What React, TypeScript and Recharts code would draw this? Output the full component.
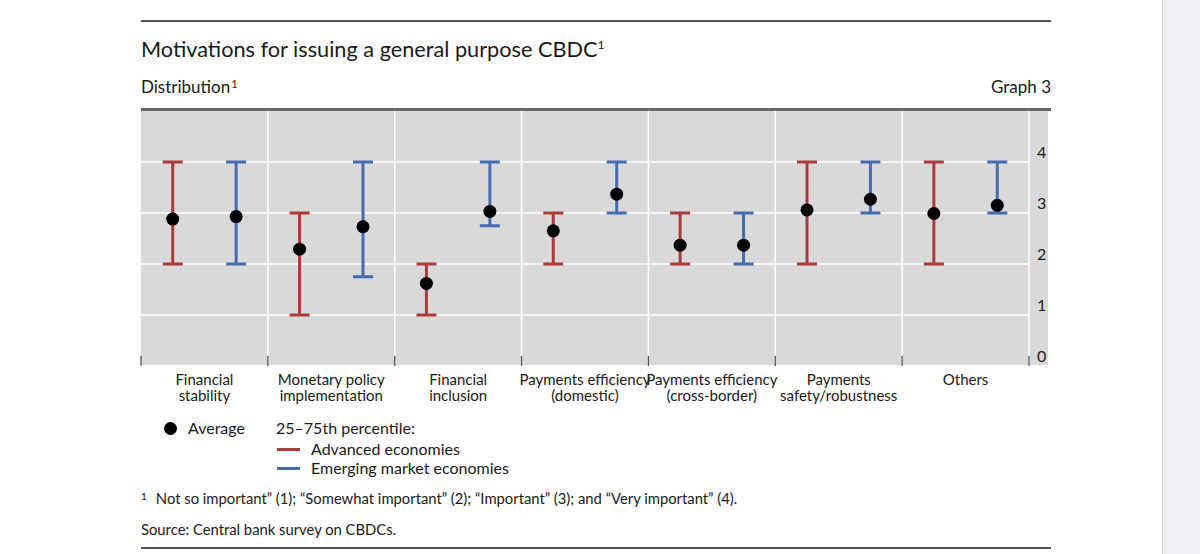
import React from "react";
import {
  ComposedChart,
  Scatter,
  ErrorBar,
  XAxis,
  YAxis,
  CartesianGrid,
  ReferenceLine,
} from "recharts";

// ---------- data ----------
const categoryLines: string[][] = [
  ["Financial", "stability"],
  ["Monetary policy", "implementation"],
  ["Financial", "inclusion"],
  ["Payments efficiency", "(domestic)"],
  ["Payments efficiency", "(cross-border)"],
  ["Payments", "safety/robustness"],
  ["Others"],
];

const aeAvg = [2.88, 2.29, 1.62, 2.65, 2.37, 3.06, 2.99];
const aeLow = [2, 1, 1, 2, 2, 2, 2];
const aeHigh = [4, 3, 2, 3, 3, 4, 4];

const emeAvg = [2.93, 2.73, 3.03, 3.37, 2.37, 3.27, 3.15];
const emeLow = [2, 1.75, 2.75, 3, 2, 3, 3];
const emeHigh = [4, 4, 4, 4, 3, 4, 4];

const yTicks = [0, 1, 2, 3, 4];
const xLabelTicks = [0.5, 1.5, 2.5, 3.5, 4.5, 5.5, 6.5];
const boundaries = [0, 1, 2, 3, 4, 5, 6, 7];

const RED = "#ab3a3a";
const BLUE = "#456bb0";
const FONT = "Lato, 'Open Sans', sans-serif";

const aeData = aeAvg.map((v, i) => ({
  x: i + 0.25,
  y: v,
  err: [v - aeLow[i], aeHigh[i] - v],
}));
const emeData = emeAvg.map((v, i) => ({
  x: i + 0.75,
  y: v,
  err: [v - emeLow[i], emeHigh[i] - v],
}));
const avgData = [...aeData, ...emeData].map((d) => ({ x: d.x, y: d.y }));

const XTick = (props: any) => {
  const { x, y, payload } = props;
  const idx = Math.floor(payload.value);
  const lines = categoryLines[idx] || [];
  return (
    <text x={x} y={y} textAnchor="middle" fill="#1a1a1a" fontSize={15} fontFamily={FONT}>
      {lines.map((l, k) => (
        <tspan key={k} x={x} dy={k === 0 ? 19 : 16}>
          {l}
        </tspan>
      ))}
    </text>
  );
};

const YTick = (props: any) => {
  const { x, y, payload } = props;
  return (
    <text x={x + 8} y={y - 4} textAnchor="start" fill="#1a1a1a" fontSize={16} fontFamily={FONT}>
      {payload.value}
    </text>
  );
};

const NoShape = () => <g />;
const Dot = (props: any) => {
  const { cx, cy } = props;
  return <circle cx={cx} cy={cy} r={6.5} fill="#000" />;
};

const abs = (s: React.CSSProperties): React.CSSProperties => ({ position: "absolute", ...s });

export default function App() {
  return (
    <div
      style={{
        position: "absolute",
        left: 0,
        top: 0,
        width: 1200,
        height: 554,
        background: "#fff",
        fontFamily: FONT,
        color: "#1a1a1a",
        overflow: "hidden",
      }}
    >
      {/* right side band */}
      <div style={abs({ left: 1162, top: 0, width: 1, height: 554, background: "#cfcfd3" })} />
      <div style={abs({ left: 1163, top: 0, width: 37, height: 554, background: "#efeff4" })} />

      {/* top rule */}
      <div style={abs({ left: 141, top: 20, width: 910, height: 1.5, background: "#555" })} />
      <div style={abs({ left: 141, top: 35, fontSize: 21.7, lineHeight: "28px", whiteSpace: "nowrap" })}>
        Motivations for issuing a general purpose CBDC
        <sup style={{ fontSize: 12, verticalAlign: "top", position: "relative", top: -4 }}>1</sup>
      </div>
      <div style={abs({ left: 141, top: 76, fontSize: 17, lineHeight: "22px", whiteSpace: "nowrap" })}>
        Distribution
        <sup style={{ fontSize: 11, verticalAlign: "top", position: "relative", top: -3, marginLeft: 1 }}>1</sup>
      </div>
      <div style={abs({ left: 900, width: 151, top: 76, fontSize: 17, lineHeight: "22px", textAlign: "right" })}>
        Graph 3
      </div>
      <div style={abs({ left: 141, top: 108, width: 910, height: 2.5, background: "#666" })} />

      {/* plot background */}
      <div style={abs({ left: 141, top: 111, width: 907, height: 254, background: "#d9d9d9" })} />

      <div style={abs({ left: 0, top: 0 })}>
        <ComposedChart
          width={1200}
          height={420}
          margin={{ top: 111, right: 152, bottom: 4, left: 141 }}
        >
          <CartesianGrid
            stroke="#ffffff"
            strokeWidth={1.5}
            horizontalValues={[1, 2, 3, 4]}
            verticalValues={[1, 2, 3, 4, 5, 6, 7]}
          />
          <XAxis
            type="number"
            dataKey="x"
            domain={[0, 7]}
            ticks={xLabelTicks}
            tick={<XTick />}
            tickLine={false}
            axisLine={false}
            tickSize={0}
            tickMargin={0}
            height={50}
            interval={0}
            allowDataOverflow
          />
          <YAxis
            type="number"
            dataKey="y"
            orientation="right"
            domain={[0, 5]}
            ticks={yTicks}
            tick={<YTick />}
            tickLine={false}
            axisLine={false}
            tickSize={0}
            tickMargin={0}
            width={19}
            interval={0}
            allowDataOverflow
          />
          {boundaries.map((b) => (
            <ReferenceLine
              key={b}
              segment={[
                { x: b, y: 0 },
                { x: b, y: 0.2 },
              ]}
              stroke="#555"
              strokeWidth={1.3}
              ifOverflow="visible"
            />
          ))}
          <Scatter data={aeData} shape={<NoShape />} isAnimationActive={false}>
            <ErrorBar dataKey="err" direction="y" width={10} stroke={RED} strokeWidth={3} isAnimationActive={false} />
          </Scatter>
          <Scatter data={emeData} shape={<NoShape />} isAnimationActive={false}>
            <ErrorBar dataKey="err" direction="y" width={10} stroke={BLUE} strokeWidth={3} isAnimationActive={false} />
          </Scatter>
          <Scatter data={avgData} shape={<Dot />} isAnimationActive={false} />
        </ComposedChart>
      </div>

      {/* legend */}
      <div style={abs({ left: 164, top: 422, width: 13, height: 13, borderRadius: 7, background: "#000" })} />
      <div style={abs({ left: 188, top: 418, fontSize: 16, lineHeight: "20px", whiteSpace: "nowrap" })}>Average</div>
      <div style={abs({ left: 276, top: 418, fontSize: 16, lineHeight: "20px", whiteSpace: "nowrap" })}>
        25–75th percentile:
      </div>
      <div style={abs({ left: 277, top: 448, width: 23, height: 3, background: RED })} />
      <div style={abs({ left: 311, top: 439, fontSize: 16, lineHeight: "20px", whiteSpace: "nowrap" })}>
        Advanced economies
      </div>
      <div style={abs({ left: 277, top: 467, width: 23, height: 3, background: BLUE })} />
      <div style={abs({ left: 311, top: 458, fontSize: 16, lineHeight: "20px", whiteSpace: "nowrap" })}>
        Emerging market economies
      </div>

      {/* footnotes */}
      <div style={abs({ left: 141, top: 489, fontSize: 14.8, lineHeight: "18px", whiteSpace: "nowrap" })}>
        <sup style={{ fontSize: 10, verticalAlign: "top", position: "relative", top: -2 }}>1</sup>
        <span style={{ marginLeft: 9 }}>
          Not so important” (1); “Somewhat important” (2); “Important” (3); and “Very important” (4).
        </span>
      </div>
      <div style={abs({ left: 141, top: 520, fontSize: 14.8, lineHeight: "18px", whiteSpace: "nowrap" })}>
        Source: Central bank survey on CBDCs.
      </div>
      <div style={abs({ left: 141, top: 547, width: 910, height: 1.5, background: "#555" })} />
    </div>
  );
}
